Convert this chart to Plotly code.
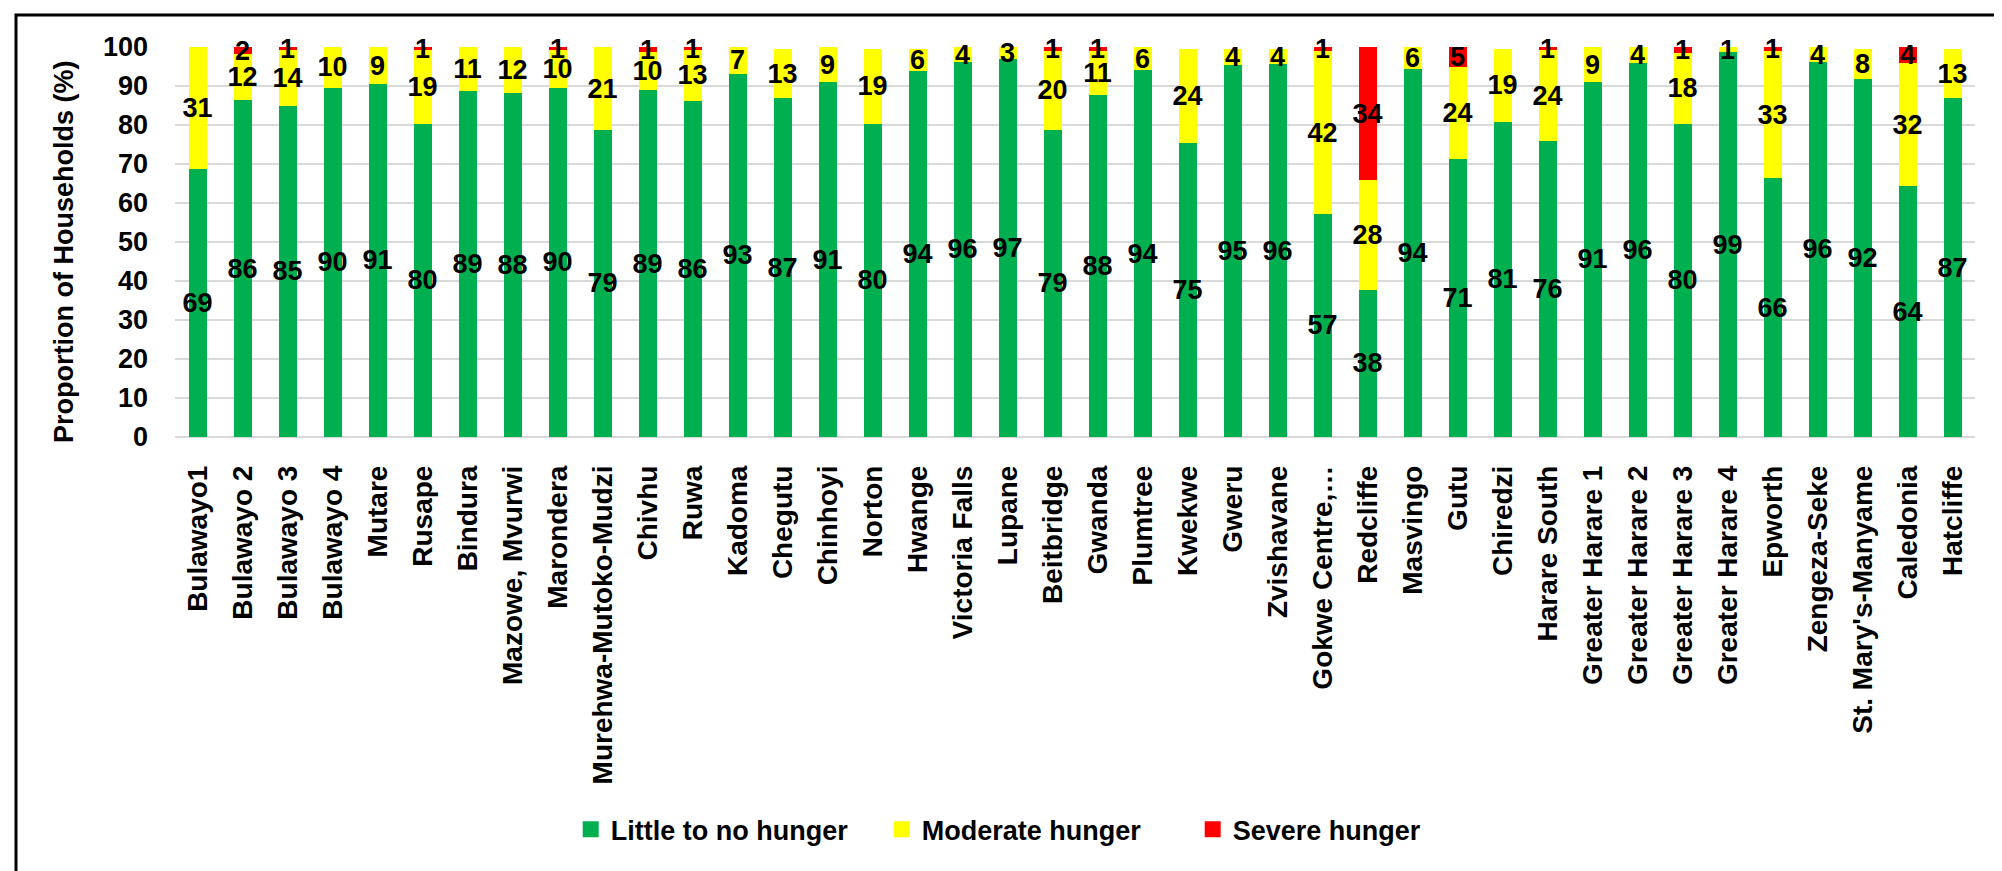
import plotly.graph_objects as go

categories = ["Bulawayo1", "Bulawayo 2", "Bulawayo 3", "Bulawayo 4", "Mutare", "Rusape", "Bindura",
              "Mazowe, Mvurwi", "Marondera", "Murehwa-Mutoko-Mudzi", "Chivhu", "Ruwa", "Kadoma",
              "Chegutu", "Chinhoyi", "Norton", "Hwange", "Victoria Falls", "Lupane", "Beitbridge",
              "Gwanda", "Plumtree", "Kwekwe", "Gweru", "Zvishavane", "Gokwe Centre,…", "Redcliffe",
              "Masvingo", "Gutu", "Chiredzi", "Harare South", "Greater Harare 1", "Greater Harare 2",
              "Greater Harare 3", "Greater Harare 4", "Epworth", "Zengeza-Seke", "St. Mary's-Manyame",
              "Caledonia", "Hatcliffe"]

little = [68.6, 86.3, 84.9, 89.6, 90.6, 80.3, 88.6, 88.3, 89.6, 78.8, 88.9, 86.2, 93.2,
          86.8, 90.9, 80.3, 93.9, 96.2, 96.8, 78.8, 87.8, 94.0, 75.4, 95.3, 95.6, 57.2, 37.8,
          94.3, 71.2, 80.8, 75.8, 91.1, 95.8, 80.3, 98.6, 66.3, 96.2, 91.9, 64.3, 86.9]

moderate = [31.3, 12.0, 14.4, 10.3, 9.3, 18.9, 11.3, 11.6, 9.7, 21.1, 9.9, 13.1, 6.7,
            12.7, 9.0, 19.2, 5.6, 3.7, 3.1, 20.1, 11.1, 5.9, 24.1, 4.2, 3.9, 41.7, 28.0,
            5.6, 23.8, 18.7, 23.5, 8.8, 4.1, 18.2, 1.3, 32.7, 3.7, 7.6, 31.5, 12.6]

severe = [0, 1.6, 0.6, 0, 0, 0.7, 0, 0, 0.6, 0, 1.1, 0.6, 0,
          0, 0, 0, 0, 0, 0, 1.0, 1.0, 0, 0, 0, 0, 1.0, 34.1,
          0, 4.9, 0, 0.6, 0, 0, 1.4, 0, 0.9, 0, 0, 4.1, 0]

series_names = ["Little to no hunger", "Moderate hunger", "Severe hunger"]
series_values = [little, moderate, severe]
series_colors = ["#00B050", "#FFFF00", "#FF0000"]

y_title = "Proportion of Households (%)"

FONT = "Liberation Sans, Arial, sans-serif"

fig = go.Figure()
for name, vals, color in zip(series_names, series_values, series_colors):
    yv = [v if v > 0 else None for v in vals]
    fig.add_trace(go.Bar(
        x=categories, y=yv, name=name, showlegend=False,
        marker=dict(color=color, line=dict(width=0)),
        text=[f"{v:.0f}" if v else "" for v in vals],
        textposition="inside", insidetextanchor="middle",
        constraintext="none", textangle=0,
        textfont=dict(family=FONT, size=27, color="black", weight="bold"),
        cliponaxis=False,
    ))

# legend proxies (bigger square keys, as in the reference)
for name, color in zip(series_names, series_colors):
    fig.add_trace(go.Scatter(
        x=[None], y=[None], mode="markers", name=name,
        marker=dict(symbol="square", size=16, color=color, line=dict(width=0)),
        showlegend=True,
    ))

fig.update_layout(
    width=2002, height=871,
    barmode="stack", bargap=0.6,
    paper_bgcolor="white", plot_bgcolor="white",
    margin=dict(l=167, r=35, t=39, b=442),
    font=dict(family=FONT, color="black"),
    showlegend=True,
    legend=dict(orientation="h", x=0.479, xanchor="center", y=-1.007, yanchor="middle",
                font=dict(family=FONT, size=27, color="black", weight="bold"),
                entrywidth=266, itemwidth=30, traceorder="normal", itemsizing="trace"),
)

fig.update_yaxes(range=[0, 100], dtick=10, showgrid=True, gridcolor="#D9D9D9", gridwidth=2,
                 zeroline=True, zerolinecolor="#D9D9D9", zerolinewidth=2, showline=False,
                 ticks="", ticklabelstandoff=26,
                 tickfont=dict(family=FONT, size=27, color="black", weight="bold"))
fig.update_xaxes(showline=False, ticks="", tickangle=-90, ticklabelstandoff=22,
                 tickfont=dict(family=FONT, size=28, color="black", weight="bold"))

fig.add_annotation(text=y_title, textangle=-90, xref="paper", yref="paper",
                   x=(56 - 167) / 1800, y=(429 - 244) / 390, xanchor="center", yanchor="middle",
                   showarrow=False, font=dict(family=FONT, size=27, color="black", weight="bold"))

fig.add_shape(type="rect", xref="paper", yref="paper",
              x0=(8 - 167) / 1800, x1=(1995 - 167) / 1800,
              y0=(429 - 880) / 390, y1=(429 - 7) / 390,
              line=dict(color="black", width=3), fillcolor="rgba(0,0,0,0)", layer="above")

fig.write_html("out.html")
